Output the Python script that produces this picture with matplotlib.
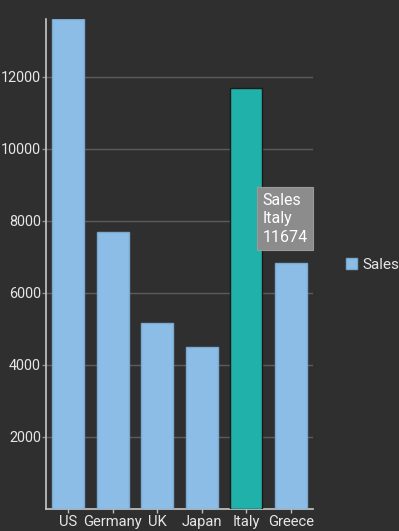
import matplotlib
matplotlib.use("Agg")
import matplotlib.pyplot as plt
from matplotlib.patches import Patch

categories = ["US", "Germany", "UK", "Japan", "Italy", "Greece"]
sales = [13600, 7690, 5170, 4500, 11674, 6830]
yticks = [2000, 4000, 6000, 8000, 10000, 12000]
highlight = "Italy"

plt.rcParams['font.family'] = ['Roboto', 'DejaVu Sans']
bg = "#2f2f2f"
txt = "#e6e6e6"

fig = plt.figure(figsize=(3.99, 5.31), dpi=100, facecolor=bg)
ax = fig.add_axes([46/399, 22/531, (313-46)/399, (509-19)/531])
ax.set_facecolor(bg)

x = list(range(len(categories)))
colors = ["#20b2aa" if c == highlight else "#8bbde6" for c in categories]
edges = ["#1a1a1a" if c == highlight else "#7aa9cf" for c in categories]
ax.bar(x, sales, width=0.72, color=colors, edgecolor=edges, linewidth=1.0, zorder=3)

ax.set_xlim(-0.5, len(categories) - 0.5)
ax.set_ylim(0, max(sales))
ax.set_yticks(yticks)
ax.set_yticklabels([str(v) for v in yticks])
ax.set_xticks(x)
ax.set_xticklabels(categories)
ax.grid(axis='y', color="#5c5c5c", linewidth=1.0, zorder=0)
ax.tick_params(axis='y', colors="#8a8a8a", labelcolor=txt, labelsize=10.4, length=3, width=1, pad=0.5)
ax.tick_params(axis='x', colors="#bdbdbd", labelcolor=txt, labelsize=10.6, length=3, width=1, pad=1)
for s in ["top", "right"]:
    ax.spines[s].set_visible(False)
for s in ["left", "bottom"]:
    ax.spines[s].set_color("#c8c8c8")
    ax.spines[s].set_linewidth(1.2)

# tooltip
i = categories.index(highlight)
ax.text(i + 0.37, sales[i] * 0.69, f"Sales\n{highlight}\n{sales[i]}", color="white", fontsize=11.5,
        va='center', ha='left', linespacing=1.3, zorder=5,
        bbox=dict(boxstyle="square,pad=0.35", facecolor="#8c8c8c", edgecolor="#9a9a9a", linewidth=0.8))

fig.legend(handles=[Patch(facecolor="#8bbde6", edgecolor="#7aa9cf", label="Sales")],
           loc='center left', bbox_to_anchor=(346/399, 1 - 265/531), frameon=False,
           labelcolor=txt, fontsize=11, handlelength=0.75, handleheight=0.75, handletextpad=0.3,
           borderaxespad=0, borderpad=0)

fig.savefig("out.png", dpi=100, facecolor=bg)
